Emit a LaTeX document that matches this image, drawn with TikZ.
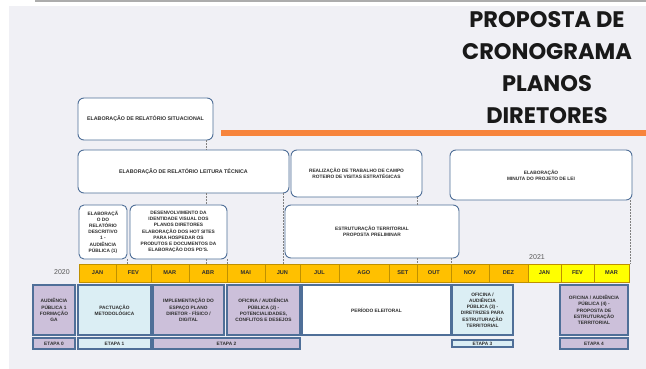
\documentclass[tikz,border=0pt]{standalone}
\usepackage{fontspec}
\setmainfont{Liberation Sans}
\newfontfamily\titlefont{Poppins}

\definecolor{bgcol}{HTML}{F0F0F5}
\definecolor{edge}{HTML}{4F6F98}
\definecolor{gold}{HTML}{FFC000}
\definecolor{lemon}{HTML}{FFFF00}
\definecolor{lilac}{HTML}{CCC0DA}
\definecolor{ice}{HTML}{DBEEF4}
\definecolor{rule}{HTML}{F7843C}
\definecolor{txt}{HTML}{2E2E2E}

\tikzset{
  tbox/.style={draw=edge, line width=0.9pt, rounded corners=6pt, fill=white, align=center,
    font=\fontsize{4.8}{6.2}\selectfont\bfseries, text=txt, inner sep=1pt},
  sbox/.style={draw=edge, line width=1.3pt, align=center,
    font=\fontsize{4.8}{6.2}\selectfont\bfseries, text=txt, inner sep=1pt},
  month/.style={draw=gold!75!black, line width=0.4pt, fill=gold, minimum height=18pt,
    font=\fontsize{5.6}{6}\selectfont\bfseries, text=txt, inner sep=0pt},
  link/.style={draw=gray, line width=0.6pt, dash pattern=on 2pt off 1pt},
}

\begin{document}
\begin{tikzpicture}[x=1pt, y=-1pt]
			% page and background
			\useasboundingbox (0,0) rectangle (646,369);
			\fill[gray!65] (35,0) rectangle (646,2.5);
			\fill[bgcol] (9,6) rectangle (646,369);

			% title and orange rule
			\node[font=\titlefont\bfseries\fontsize{22.5}{32}\selectfont, align=center, text=black!90] (title) at (547,68)
				{PROPOSTA DE\\CRONOGRAMA\\PLANOS\\DIRETORES};
			\fill[rule] (221,130.5) rectangle (646,135.5);

			% activity boxes
			\node[tbox, font=\fontsize{5.3}{6.2}\selectfont\bfseries, minimum width=135pt, minimum height=42pt] (sit) at (145.5,119) {ELABORAÇÃO DE RELATÓRIO SITUACIONAL};
			\node[tbox, font=\fontsize{5.3}{6.2}\selectfont\bfseries, minimum width=211pt, minimum height=43pt] (lt) at (183.5,171.5) {ELABORAÇÃO DE RELATÓRIO LEITURA TÉCNICA};
			\node[tbox, minimum width=131pt, minimum height=47pt] (tc) at (356.5,173.5) {REALIZAÇÃO DE TRABALHO DE CAMPO\\ROTEIRO DE VISITAS ESTRATÉGICAS};
			\node[tbox, minimum width=182pt, minimum height=50pt] (mn) at (541,175) {ELABORAÇÃO\\MINUTA DO PROJETO DE LEI};
			\node[tbox, minimum width=48pt, minimum height=54pt, rounded corners=5pt] (ed) at (103,232)
				{ELABORAÇÃ\\O DO\\RELATÓRIO\\DESCRITIVO\\1 -\\AUDIÊNCIA\\PÚBLICA (1)};
			\node[tbox, minimum width=97pt, minimum height=54pt] (dv) at (178.5,232)
				{DESENVOLVIMENTO DA\\IDENTIDADE VISUAL DOS\\PLANOS DIRETORES\\ELABORAÇÃO DOS HOT SITES\\PARA HOSPEDAR OS\\PRODUTOS E DOCUMENTOS DA\\ELABORAÇÃO DOS PD'S.};
			\node[tbox, minimum width=174pt, minimum height=53pt] (et) at (372,231.5) {ESTRUTURAÇÃO TERRITORIAL\\PROPOSTA PRELIMINAR};

			% months
			\node[month, minimum width=37pt] (jan) at (97.5,273) {JAN};
			\node[month, minimum width=34.7pt] (fev) at (133.35,273) {FEV};
			\node[month, minimum width=38.3pt] (mar) at (169.85,273) {MAR};
			\node[month, minimum width=38pt] (abr) at (208,273) {ABR};
			\node[month, minimum width=37.7pt] (mai) at (245.85,273) {MAI};
			\node[month, minimum width=35.3pt] (jun) at (282.35,273) {JUN};
			\node[month, minimum width=39pt] (jul) at (319.5,273) {JUL};
			\node[month, minimum width=49.7pt] (ago) at (363.85,273) {AGO};
			\node[month, minimum width=28.3pt] (set) at (402.85,273) {SET};
			\node[month, minimum width=33.7pt] (out) at (433.85,273) {OUT};
			\node[month, minimum width=38.3pt] (nov) at (469.85,273) {NOV};
			\node[month, minimum width=38.7pt] (dez) at (508.35,273) {DEZ};
			\node[month, fill=lemon, minimum width=33.3pt] (jan2) at (544.35,273) {JAN};
			\node[month, fill=lemon, minimum width=33pt] (fev2) at (577.5,273) {FEV};
			\node[month, fill=lemon, minimum width=35pt] (mar2) at (611.5,273) {MAR};

			% years
			\node[text=txt!80, font=\fontsize{7}{8}\selectfont] (y20) at (62,272) {2020};
			\node[text=txt!80, font=\fontsize{7}{8}\selectfont] (y21) at (537,257) {2021};

			% tick points on the month bar
			\coordinate (kE) at (127,264);
			\coordinate (kF) at (206,264);
			\coordinate (kM) at (227,264);
			\coordinate (kJ) at (283,264);
			\coordinate (kS) at (417,264);
			\coordinate (kO) at (451,264);
			\coordinate (kZ) at (630,264);

			% connectors
			\draw[link] (sit.south -| kF) -- (lt.north -| kF);
			\draw[link] (lt.south -| kF) -- (dv.north -| kF);
			\draw[link] (dv.south -| kF) -- (kF);
			\draw[link] (dv.south -| kM) -- (kM);
			\draw[link] (ed.south -| kE) -- (kE);
			\draw[link] (lt.south -| kJ) -- (kJ);
			\draw[link] (tc.south -| kS) -- (et.north -| kS);
			\draw[link] (et.south -| kS) -- (kS);
			\draw[link] (et.south -| kO) -- (kO);
			\draw[link] (mn.south -| kZ) -- (kZ);

			% stages
			\node[sbox, fill=lilac, minimum width=42pt, minimum height=50pt] (s0) at (54,310) {AUDIÊNCIA\\PÚBLICA 1\\FORMAÇÃO\\GA};
			\node[sbox, fill=ice, minimum width=73pt, minimum height=50pt] (s1) at (114.5,310) {PACTUAÇÃO\\METODOLÓGICA};
			\node[sbox, fill=lilac, minimum width=71pt, minimum height=50pt] (s2a) at (188.5,310) {IMPLEMENTAÇÃO DO\\ESPAÇO PLANO\\DIRETOR - FÍSICO /\\DIGITAL};
			\node[sbox, fill=lilac, minimum width=73pt, minimum height=50pt] (s2b) at (263.5,310) {OFICINA / AUDIÊNCIA\\PÚBLICA (2) -\\POTENCIALIDADES,\\CONFLITOS E DESEJOS};
			\node[sbox, fill=white, minimum width=149pt, minimum height=50pt] (el) at (376.5,310) {PERÍODO ELEITORAL};
			\node[sbox, fill=ice, minimum width=61pt, minimum height=50pt] (s3) at (482.5,310) {OFICINA /\\AUDIÊNCIA\\PÚBLICA (3) -\\DIRETRIZES PARA\\ESTRUTURAÇÃO\\TERRITORIAL};
			\node[sbox, fill=lilac, minimum width=68pt, minimum height=50pt] (s4) at (594,310) {OFICINA / AUDIÊNCIA\\PÚBLICA (4) -\\PROPOSTA DE\\ESTRUTURAÇÃO\\TERRITORIAL};

			% stage labels
			\node[sbox, fill=lilac, minimum width=42pt, minimum height=11pt] (e0) at (54,343.5) {ETAPA 0};
			\node[sbox, fill=ice, minimum width=73pt, minimum height=11pt] (e1) at (114.5,343.5) {ETAPA 1};
			\node[sbox, fill=lilac, minimum width=147pt, minimum height=11pt] (e2) at (226.5,343.5) {ETAPA 2};
			\node[sbox, fill=ice, minimum width=61pt, minimum height=7pt, inner sep=0pt] (e3) at (482.5,343.5) {ETAPA 3};
			\node[sbox, fill=lilac, minimum width=68pt, minimum height=11pt] (e4) at (594,343.5) {ETAPA 4};
\end{tikzpicture}
\end{document}
